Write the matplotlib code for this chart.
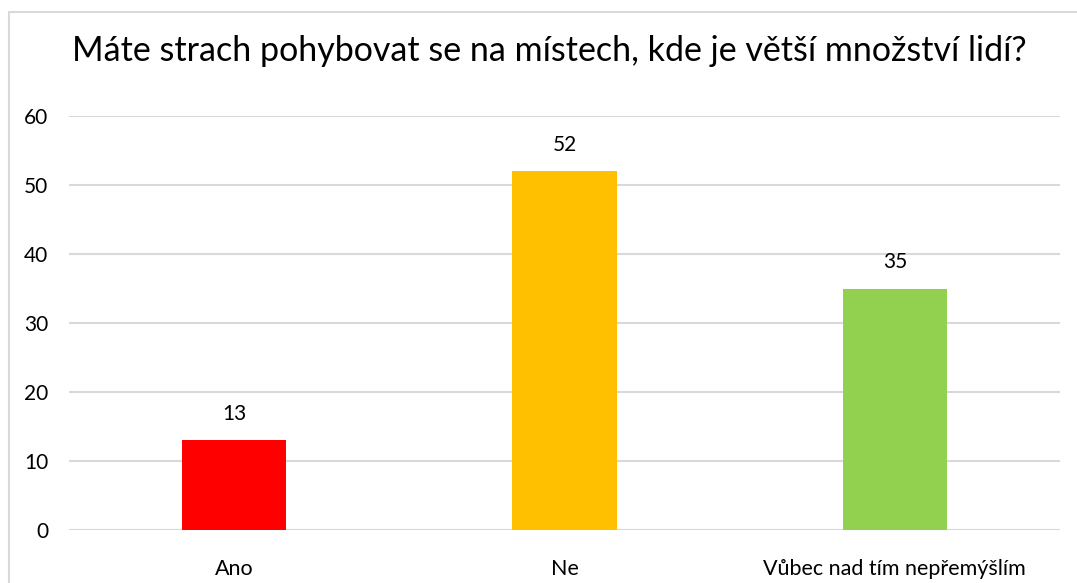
import matplotlib
matplotlib.use("Agg")
import matplotlib.pyplot as plt
from matplotlib.patches import Rectangle

categories = ["Ano", "Ne", "Vůbec nad tím nepřemýšlím"]
values = [13, 52, 35]
colors = ["#FF0000", "#FFC000", "#92D050"]
yticks = [0, 10, 20, 30, 40, 50, 60]
title = "Máte strach pohybovat se na místech, kde je větší množství lidí?"

plt.rcParams['font.family'] = ['Lato', 'DejaVu Sans']

fig = plt.figure(figsize=(10.77, 5.83), dpi=100)
ax = fig.add_axes([0.0641, 0.0909, 0.9201, 0.7101])

x = list(range(len(categories)))
bars = ax.bar(x, values, width=0.315, color=colors, zorder=3)
for xi, v in zip(x, values):
    ax.annotate(str(v), (xi, v), xytext=(0, 19), textcoords="offset points",
                ha="center", va="center", fontsize=15, color="#000000")

ax.set_xlim(-0.5, len(categories) - 0.5)
ax.set_ylim(0, 60)
ax.set_yticks(yticks)
ax.set_xticks(x)
ax.set_xticklabels(categories, fontsize=15.5)
ax.tick_params(axis='y', length=0, pad=15, labelsize=15)
ax.tick_params(axis='x', length=0, pad=21)
ax.grid(axis='y', color="#D9D9D9", linewidth=1.5, zorder=0)
for s in ax.spines.values():
    s.set_visible(False)

fig.text(549 / 1077, 0.912, title, ha="center", va="center", fontsize=24.5, color="#000000")

fig.patches.append(Rectangle((9 / 1077, -0.1), 1.2, (583 - 12) / 583 + 0.1,
                             transform=fig.transFigure, fill=False,
                             edgecolor="#D9D9D9", linewidth=1.5))

fig.savefig("out.png", dpi=100)
